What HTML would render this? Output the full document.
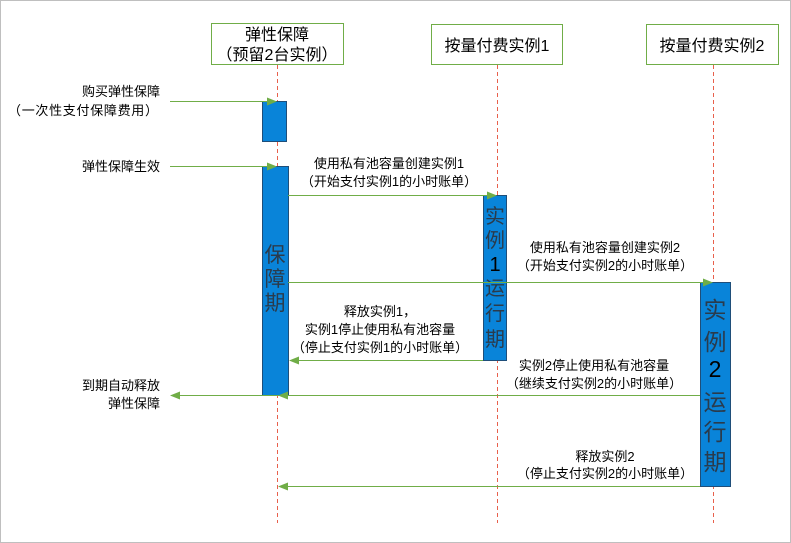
<!DOCTYPE html>
<html><head><meta charset="utf-8"><style>
html,body{margin:0;padding:0;background:#fff;}
svg{display:block;font-family:"Liberation Sans","Noto Sans CJK SC",sans-serif;}
</style></head><body>
<svg width="791" height="543" viewBox="0 0 791 543" xmlns="http://www.w3.org/2000/svg">
<defs>
<marker id="ah" markerWidth="10" markerHeight="8" refX="9" refY="4" orient="auto" markerUnits="userSpaceOnUse">
<path d="M0,0 L10,4 L0,8 z" fill="#70ad47"/></marker>
</defs>
<rect x="0.5" y="0.5" width="790" height="542" fill="#fff" stroke="#bfbfbf"/>
<rect x="211.5" y="23.5" width="132" height="41" fill="#fff" stroke="#70ad47"/>
<text x="277" y="40" font-size="16" text-anchor="middle" fill="#000">弹性保障</text>
<text x="277" y="60" font-size="16" text-anchor="middle" fill="#000">（预留2台实例）</text>
<rect x="431.5" y="24.5" width="131" height="40" fill="#fff" stroke="#70ad47"/>
<text x="497" y="51" font-size="16" text-anchor="middle" fill="#000">按量付费实例1</text>
<rect x="646.5" y="24.5" width="132" height="40" fill="#fff" stroke="#70ad47"/>
<text x="712" y="51" font-size="16" text-anchor="middle" fill="#000">按量付费实例2</text>
<g stroke="#e8604c" stroke-dasharray="4,3" stroke-width="1">
<line x1="277.5" y1="65" x2="277.5" y2="523"/>
<line x1="497.5" y1="65" x2="497.5" y2="523"/>
<line x1="713.5" y1="65" x2="713.5" y2="523"/>
</g>
<g fill="#0984d9" stroke="#1f4e79" stroke-width="1">
<rect x="262.5" y="101.5" width="24" height="40"/>
<rect x="262.5" y="166.5" width="26" height="229"/>
<rect x="483.5" y="195.5" width="23" height="165"/>
<rect x="700.5" y="282.5" width="30" height="204"/>
</g>
<g fill="#2a3b4c" text-anchor="middle">
<text x="275" y="262" font-size="21">保</text>
<text x="275" y="286" font-size="21">障</text>
<text x="275" y="310" font-size="21">期</text>
<text x="495" y="223" font-size="20">实</text>
<text x="495" y="247" font-size="20">例</text>
<text x="495" y="271" font-size="20" fill="#000">1</text>
<text x="495" y="295" font-size="20">运</text>
<text x="495" y="320" font-size="20">行</text>
<text x="495" y="346" font-size="20">期</text>
<text x="715" y="318" font-size="23">实</text>
<text x="715" y="350" font-size="23">例</text>
<text x="715" y="377" font-size="23" fill="#000">2</text>
<text x="715" y="410" font-size="23">运</text>
<text x="715" y="440" font-size="23">行</text>
<text x="715" y="470" font-size="23">期</text>
</g>
<g stroke="#70ad47" stroke-width="1" fill="none">
<line x1="170" y1="101.5" x2="276" y2="101.5" marker-end="url(#ah)"/>
<line x1="170" y1="166.5" x2="276" y2="166.5" marker-end="url(#ah)"/>
<line x1="288" y1="195.5" x2="496" y2="195.5" marker-end="url(#ah)"/>
<line x1="288" y1="282.5" x2="712" y2="282.5" marker-end="url(#ah)"/>
<line x1="483" y1="360.5" x2="290" y2="360.5" marker-end="url(#ah)"/>
<line x1="700" y1="395.5" x2="279" y2="395.5" marker-end="url(#ah)"/>
<line x1="279" y1="395.5" x2="171" y2="395.5" marker-end="url(#ah)"/>
<line x1="700" y1="486.5" x2="279" y2="486.5" marker-end="url(#ah)"/>
</g>
<g font-size="13" fill="#000">
<text x="160" y="96" text-anchor="end">购买弹性保障</text>
<text x="8" y="115" textLength="150">（一次性支付保障费用）</text>
<text x="160" y="171" text-anchor="end">弹性保障生效</text>
<text x="389" y="168" text-anchor="middle">使用私有池容量创建实例1</text>
<text x="389" y="186" text-anchor="middle">（开始支付实例1的小时账单）</text>
<text x="605" y="252" text-anchor="middle">使用私有池容量创建实例2</text>
<text x="605" y="270" text-anchor="middle">（开始支付实例2的小时账单）</text>
<text x="380" y="316" text-anchor="middle">释放实例1，</text>
<text x="380" y="334" text-anchor="middle">实例1停止使用私有池容量</text>
<text x="380" y="352" text-anchor="middle">（停止支付实例1的小时账单）</text>
<text x="594" y="370" text-anchor="middle">实例2停止使用私有池容量</text>
<text x="594" y="388" text-anchor="middle">（继续支付实例2的小时账单）</text>
<text x="160" y="390" text-anchor="end">到期自动释放</text>
<text x="160" y="408" text-anchor="end">弹性保障</text>
<text x="605" y="461" text-anchor="middle">释放实例2</text>
<text x="605" y="478" text-anchor="middle">（停止支付实例2的小时账单）</text>
</g>
</svg>
</body></html>
